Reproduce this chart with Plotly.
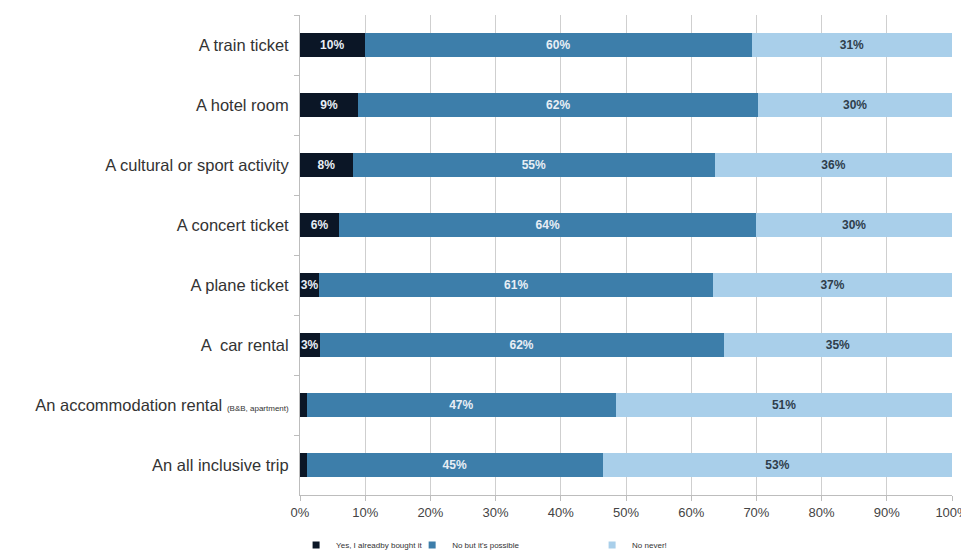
import plotly.graph_objects as go

categories = [
    "A train ticket",
    "A hotel room",
    "A cultural or sport activity",
    "A concert ticket",
    "A plane ticket",
    "A  car rental",
    "An accommodation rental <span style='font-size:8px'>(B&B, apartment)</span>",
    "An all inclusive trip",
]
yes_bought = [10, 9, 8, 6, 3, 3, 1, 1]
yes_labels = ["10%", "9%", "8%", "6%", "3%", "3%", "", ""]
possible = [60, 62, 55, 64, 61, 62, 47, 45]
never = [31, 30, 36, 30, 37, 35, 51, 53]
series_names = ["Yes, I alreadby bought it", "No but it's possible", "No never!"]
tick_vals = [0, 10, 20, 30, 40, 50, 60, 70, 80, 90, 100]
tick_text = ["0%", "10%", "20%", "30%", "40%", "50%", "60%", "70%", "80%", "90%", "100%"]

colors = ["#0b1626", "#3d7eaa", "#a9cfea"]
label_font = dict(family="Liberation Sans, Arial", size=12, weight="bold")
text_colors = ["#e8eef5", "#e8eef5", "#2f3e4c"]
legends = ["legend", "legend2", "legend3"]

series_values = [yes_bought, possible, never]
series_text = [yes_labels, [f"{v}%" for v in possible], [f"{v}%" for v in never]]

fig = go.Figure()
for i in range(3):
    fig.add_trace(go.Bar(
        y=categories, x=series_values[i], orientation="h", name=series_names[i],
        marker=dict(color=colors[i], line=dict(width=0)),
        text=series_text[i], textposition="inside", insidetextanchor="middle",
        constraintext="none", textangle=0, showlegend=False,
        textfont=dict(color=text_colors[i], **label_font),
        hoverinfo="skip",
    ))
# legend entries with small square keys
for i in range(3):
    fig.add_trace(go.Scatter(
        x=[None], y=[None], mode="markers", name=series_names[i],
        marker=dict(symbol="square", size=7, color=colors[i]),
        showlegend=True, legend=legends[i], hoverinfo="skip",
    ))

leg_common = dict(orientation="h", y=-0.104, xanchor="left", yanchor="middle",
                  font=dict(size=8, color="#333"), itemwidth=30,
                  bgcolor="rgba(0,0,0,0)")
fig.update_layout(
    width=961, height=545, showlegend=True,
    barmode="stack", barnorm="percent", bargap=0.6,
    margin=dict(l=292, r=17, t=7, b=58, autoexpand=False),
    paper_bgcolor="white", plot_bgcolor="white",
    font=dict(family="Liberation Sans, Arial", color="#333333"),
    legend=dict(x=-0.006, **leg_common),
    legend2=dict(x=0.172, **leg_common),
    legend3=dict(x=0.448, **leg_common),
    xaxis=dict(range=[0, 100], tickvals=tick_vals, ticktext=tick_text,
               showgrid=True, gridcolor="#cfcfcf", gridwidth=1,
               ticks="outside", ticklen=5, tickcolor="#bdbdbd",
               showline=True, linecolor="#bdbdbd", zeroline=False,
               automargin=False, ticklabeloverflow="allow",
               tickfont=dict(size=13, color="#444")),
    yaxis=dict(autorange="reversed", tickson="boundaries", ticks="outside", ticklen=5,
               tickcolor="#bdbdbd", showline=True, linecolor="#bdbdbd",
               automargin=False,
               tickfont=dict(size=16.5, color="#333"), ticklabelstandoff=7),
)
fig.write_html("out.html")
